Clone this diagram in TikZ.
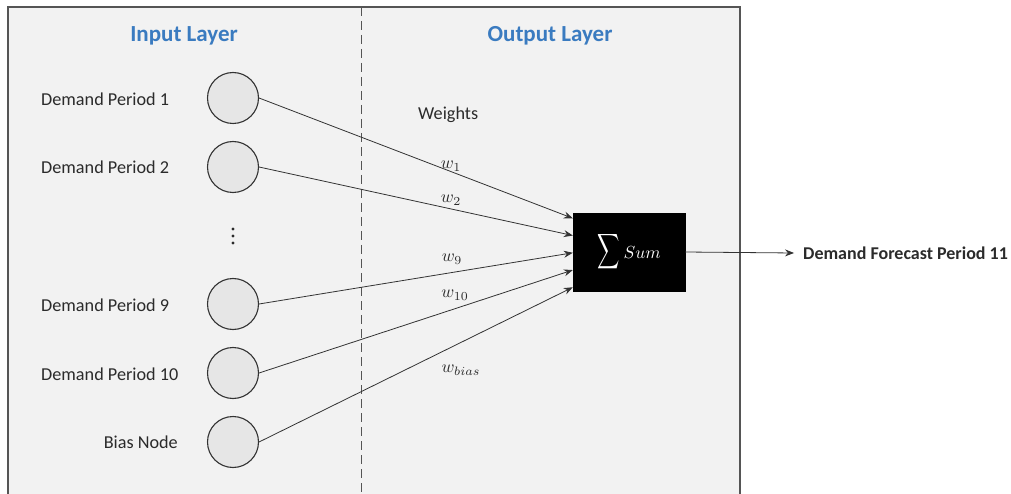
\documentclass[tikz,border=0pt]{standalone}
\usepackage{fontspec}
\usepackage{graphicx}
\setmainfont{Carlito}
\usetikzlibrary{arrows.meta,calc}
\definecolor{panel}{HTML}{F2F2F2}
\definecolor{frame}{HTML}{555555}
\definecolor{headblue}{HTML}{3A7BC0}
\definecolor{txt}{HTML}{2B2B2B}
\definecolor{nodefill}{HTML}{E6E6E6}
\definecolor{wire}{HTML}{333333}
\newcommand{\bigmath}[2]{{\fontsize{10}{12}\selectfont\scalebox{#1}{$#2$}}}
\tikzset{
  neuron/.style={circle, draw=wire, fill=nodefill, line width=1.1pt, minimum size=51pt, inner sep=0pt},
  lbl/.style={text=txt, font=\fontsize{18.2}{21}\selectfont, inner sep=0pt},
  head/.style={text=headblue, font=\fontsize{23}{26}\selectfont\bfseries, inner sep=0pt},
  wlbl/.style={text=txt, inner sep=0pt},
  wireline/.style={draw=wire, line width=0.8pt, -{Stealth[length=9pt,width=7pt,inset=3pt]}},
  sumbox/.style={fill=black, draw=black, minimum width=112pt, minimum height=78pt, inner sep=0pt, text=white},
  dotmark/.style={fill=txt}
}
\begin{document}
\begin{tikzpicture}[x=1pt,y=-1pt]
\useasboundingbox (0,0) rectangle (1011,494);
\clip (0,0) rectangle (1011,494);
% panel
\draw[frame, fill=panel, line width=2pt] (8,7) rectangle (740,520);
\draw[frame, line width=1pt, dash pattern=on 9pt off 5pt] (361,7) -- (361,520);
% headers
\node[head] (inhead) at (184,36) {Input Layer};
\node[head] (outhead) at (550,36) {Output Layer};
% input neurons
\node[neuron] (n1) at (233,98) {};
\node[neuron] (n2) at (233,167) {};
\node[neuron] (n9) at (233,304) {};
\node[neuron] (n10) at (233,373) {};
\node[neuron] (nb) at (233,442) {};
% vertical ellipsis
\fill[dotmark] (233,229) circle (1.6);
\fill[dotmark] (233,236) circle (1.6);
\fill[dotmark] (233,243) circle (1.6);
% labels
\node[lbl, anchor=west] (l1) at (41,99) {Demand Period 1};
\node[lbl, anchor=west] (l2) at (41,167) {Demand Period 2};
\node[lbl, anchor=west] (l9) at (41,305) {Demand Period 9};
\node[lbl, anchor=west] (l10) at (41,374) {Demand Period 10};
\node[lbl, anchor=east] (lb) at (178,442) {Bias Node};
% sum box
\node[sumbox] (sum) at (629,252) {{\fontsize{10}{12}\selectfont\scalebox{1.55}[2.45]{$\displaystyle\sum$}}\hspace{4pt}\bigmath{1.75}{Sum}};
% weights label
\node[lbl, anchor=west] (weights) at (418,115) {Weights};
% connectors
\coordinate (t1) at ($(sum.north west)!0.07!(sum.south west)$);
\coordinate (t2) at ($(sum.north west)!0.29!(sum.south west)$);
\coordinate (t9) at ($(sum.north west)!0.51!(sum.south west)$);
\coordinate (t10) at ($(sum.north west)!0.73!(sum.south west)$);
\coordinate (tb) at ($(sum.north west)!0.95!(sum.south west)$);
\draw[wireline] (n1.east) -- (t1);
\draw[wireline] (n2.east) -- (t2);
\draw[wireline] (n9.east) -- (t9);
\draw[wireline] (n10.east) -- (t10);
\draw[wireline] (nb.east) -- (tb);
% weight labels
\node[wlbl] (w1) at (451,166) {\bigmath{1.75}{w_1}};
\node[wlbl] (w2) at (451,200) {\bigmath{1.75}{w_2}};
\node[wlbl] (w9) at (452,259) {\bigmath{1.75}{w_9}};
\node[wlbl] (w10) at (455,295) {\bigmath{1.75}{w_{10}}};
\node[wlbl] (wb) at (461,370) {\bigmath{1.75}{w_{bias}}};
% output
\node[text=txt, anchor=west, inner sep=0pt, font=\fontsize{18}{21}\selectfont\bfseries] (out) at (803,253) {Demand Forecast Period 11};
\coordinate (outtip) at ($(out.west)+(-9,0)$);
\draw[wireline] (sum.east) -- (outtip);
\end{tikzpicture}
\end{document}
